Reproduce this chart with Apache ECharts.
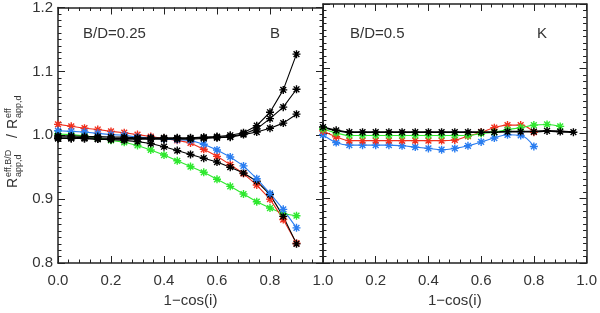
<!DOCTYPE html>
<html>
<head>
<meta charset="utf-8">
<script src="https://cdn.jsdelivr.net/npm/echarts@6/dist/echarts.min.js"></script>
<style>
html,body{margin:0;padding:0;background:#fff;}
#chart{width:600px;height:313px;}
</style>
</head>
<body>
<div id="chart"></div>
<script>
// ---- data ----
const xLeft = [0.00,0.05,0.10,0.15,0.20,0.25,0.30,0.35,0.40,0.45,0.50,0.55,0.60,0.65,0.70,0.75,0.80,0.85,0.90];
const leftRed   = [1.017,1.014,1.011,1.009,1.006,1.004,1.001,0.998,0.995,0.992,0.988,0.978,0.967,0.954,0.940,0.922,0.900,0.868,0.831];
const leftBlue  = [1.007,1.006,1.005,1.003,1.001,1.000,0.997,0.996,0.994,0.993,0.992,0.986,0.977,0.966,0.952,0.932,0.909,0.884,0.855];
const leftGreen = [1.002,1.001,0.999,0.996,0.992,0.989,0.984,0.977,0.969,0.960,0.951,0.942,0.931,0.920,0.908,0.896,0.886,0.877,0.874];
const leftBlackD= [0.995,0.995,0.995,0.994,0.993,0.992,0.990,0.987,0.982,0.976,0.970,0.964,0.958,0.950,0.941,0.928,0.907,0.873,0.830];
const leftBlackA= [0.999,0.999,0.998,0.998,0.997,0.997,0.996,0.996,0.996,0.996,0.996,0.997,0.998,1.000,1.004,1.015,1.036,1.071,1.127];
const leftBlackB= [0.997,0.997,0.996,0.996,0.995,0.995,0.995,0.995,0.995,0.995,0.995,0.996,0.997,0.998,1.002,1.010,1.026,1.044,1.072];
const leftBlackC= [0.995,0.995,0.995,0.994,0.994,0.994,0.994,0.994,0.994,0.994,0.994,0.995,0.996,0.997,1.001,1.005,1.011,1.019,1.033];

const xRight = [0.00,0.05,0.10,0.15,0.20,0.25,0.30,0.35,0.40,0.45,0.50,0.55,0.60,0.65,0.70,0.75,0.80,0.85,0.90,0.95];
const rightBlack = [1.010,1.005,1.002,1.002,1.002,1.002,1.002,1.002,1.002,1.002,1.002,1.002,1.002,1.002,1.003,1.003,1.003,1.004,1.003,1.002];
const rightGreen = [1.007,1.001,0.997,0.997,0.997,0.997,0.997,0.997,0.997,0.997,0.997,0.997,1.000,1.002,1.006,1.009,1.013,1.014,1.011];
const rightRed   = [1.004,0.995,0.989,0.989,0.989,0.989,0.989,0.989,0.989,0.989,0.990,0.996,1.002,1.009,1.013,1.013,1.002];
const rightBlue  = [0.998,0.986,0.982,0.982,0.982,0.982,0.981,0.979,0.977,0.975,0.977,0.981,0.987,0.993,0.998,0.997,0.980];

const xTickLabels = ['0.0','0.2','0.4','0.6','0.8','1.0'];
const yTickLabels = ['0.8','0.9','1.0','1.1','1.2'];
const panelLabels = [['B/D=0.25','B'],['B/D=0.5','K']];

// ---- styles ----
const RED='#f0301e', BLUE='#2a7df0', GREEN='#2ee82e', BLACK='#000000';
const AX='#222';
const FONT='Liberation Sans, Arial, sans-serif';
const STAR='path://M0,-5L0,5M-5,0L5,0M-3.6,-3.6L3.6,3.6M-3.6,3.6L3.6,-3.6';

function pairs(xs, ys){ return ys.map((v,i)=>[xs[i], v]); }

function xAx(grid, pos, labels, hideMin){
  return {
    type:'value', gridIndex:grid, position:pos, min:0, max:1, interval:0.2,
    name: labels ? '1\u2212cos(i)' : '', nameLocation:'middle', nameGap:30,
    nameTextStyle:{fontFamily:FONT,fontSize:15,color:'#333'},
    axisLine:{show:true,onZero:false,lineStyle:{color:AX,width:1.5}},
    axisTick:{show:true,inside:true,length:7,lineStyle:{color:AX,width:1}},
    minorTick:{show:true,splitNumber:5,length:3.5,lineStyle:{color:AX,width:1}},
    splitLine:{show:false},
    axisLabel:{show:labels,margin:10,fontFamily:FONT,fontSize:15,color:'#333',
      showMinLabel: !hideMin, showMaxLabel:true,
      formatter:(v)=>xTickLabels[Math.round(v/0.2)]}
  };
}
function yAx(grid, pos, labels){
  return {
    type:'value', gridIndex:grid, position:pos, min:0.8, max:1.2, interval:0.1,
    axisLine:{show:true,onZero:false,lineStyle:{color:AX,width:1.5}},
    axisTick:{show:true,inside:true,length:7,lineStyle:{color:AX,width:1}},
    minorTick:{show:true,splitNumber:10,length:3.5,lineStyle:{color:AX,width:1}},
    splitLine:{show:false},
    axisLabel:{show:labels,margin:5,fontFamily:FONT,fontSize:15,color:'#333',
      formatter:(v)=>yTickLabels[Math.round((v-0.8)/0.1)]}
  };
}
function ser(xi, yi, xs, ys, color, smooth, lw){
  return {
    type:'line', xAxisIndex:xi, yAxisIndex:yi, data:pairs(xs,ys),
    smooth:smooth, symbol:STAR, symbolSize:8,
    lineStyle:{color:color,width:lw||1.1},
    itemStyle:{color:color,borderColor:color,borderWidth:1.4},
    emphasis:{disabled:true}, animation:false, z:3
  };
}

const chart = echarts.init(document.getElementById('chart'), null, {renderer:'canvas'});

function txt(x,y,t,size,extra){
  return Object.assign({type:'text',x:x,y:y,style:{text:t,fontFamily:FONT,fontSize:size,fill:'#333',textAlign:'left',textVerticalAlign:'middle'}}, extra||{});
}

const option = {
  backgroundColor:'#fff',
  animation:false,
  grid:[
    {left:58, top:4, width:265, height:264},
    {left:323, top:4, width:265, height:264}
  ],
  xAxis:[ xAx(0,'bottom',true,false), xAx(0,'top',false,false), xAx(1,'bottom',true,true), xAx(1,'top',false,false) ],
  yAxis:[ yAx(0,'left',true), yAx(0,'right',false), yAx(1,'left',false), yAx(1,'right',false) ],
  series:[
    ser(0,0,xLeft,leftGreen,GREEN,false),
    ser(0,0,xLeft,leftRed,RED,false),
    ser(0,0,xLeft,leftBlackD,BLACK,false),
    ser(0,0,xLeft,leftBlue,BLUE,false),
    ser(0,0,xLeft,leftBlackC,BLACK,false),
    ser(0,0,xLeft,leftBlackB,BLACK,false),
    ser(0,0,xLeft,leftBlackA,BLACK,false),
    ser(2,2,xRight,rightBlue,BLUE,0.4),
    ser(2,2,xRight,rightRed,RED,0.4),
    ser(2,2,xRight,rightGreen,GREEN,0.4),
    ser(2,2,xRight,rightBlack,BLACK,0.4,1.8)
  ],
  graphic:[
    txt(83,34,panelLabels[0][0],15),
    txt(270,34,panelLabels[0][1],15),
    txt(350,34,panelLabels[1][0],15),
    txt(537,34,panelLabels[1][1],15),
    {type:'group', x:13, y:188, rotation:Math.PI/2, children:[
      txt(0,0,'R',14),
      txt(11,-4,'eff,B/D',9),
      txt(11,6,'app,d',9),
      txt(50,0,'/',14),
      txt(59,0,'R',14),
      txt(70,-4,'eff',9),
      txt(70,6,'app,d',9)
    ]}
  ]
};
chart.setOption(option);
</script>
</body>
</html>
